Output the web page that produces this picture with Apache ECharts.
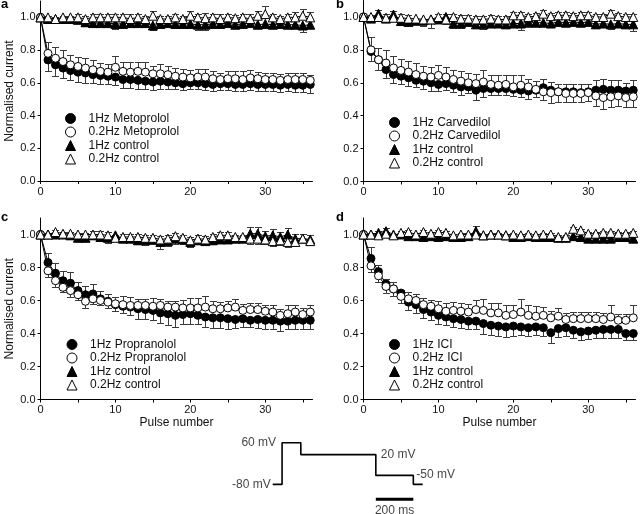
<!DOCTYPE html>
<html>
<head>
<meta charset="utf-8">
<script src="https://cdn.jsdelivr.net/npm/echarts@6/dist/echarts.min.js"></script>
<style>
html,body{margin:0;padding:0;background:#fff;}
#chart{width:640px;height:514px;}
</style>
</head>
<body>
<div id="chart"></div>
<script>
// ---------- DATA ----------
const pulses = [0,1,2,3,4,5,6,7,8,9,10,11,12,13,14,15,16,17,18,19,20,21,22,23,24,25,26,27,28,29,30,31,32,33,34,35,36];
const yTickValues = [0,0.2,0.4,0.6,0.8,1.0];
const xLabelValues = [0,10,20,30];
const xTickValues = [0,5,10,15,20,25,30,35];

const panelLetters = ['a','b','c','d'];
const drugNames = ['Metoprolol','Carvedilol','Propranolol','ICI'];
const yAxisTitle = 'Normalised current';
const xAxisTitle = 'Pulse number';

// Panel a
const a1 = [1.00,0.74,0.71,0.69,0.675,0.665,0.66,0.65,0.645,0.64,0.635,0.62,0.62,0.615,0.61,0.605,0.61,0.605,0.60,0.595,0.60,0.60,0.595,0.59,0.595,0.595,0.59,0.59,0.595,0.59,0.59,0.59,0.585,0.59,0.585,0.585,0.59];
const a1e = [0,-.07,-.07,-.06,-.06,-.06,-.06,-.05,-.05,-.05,-.05,-.05,-.05,-.05,-.05,-.05,-.05,-.04,-.04,-.04,-.04,-.04,-.04,-.04,-.04,-.04,-.04,-.04,-.04,-.04,-.04,-.04,-.04,-.04,-.04,-.04,-.05];
const a2 = [1.00,0.78,0.75,0.73,0.71,0.70,0.69,0.68,0.67,0.665,0.695,0.67,0.665,0.67,0.665,0.655,0.655,0.65,0.64,0.635,0.63,0.635,0.635,0.625,0.62,0.625,0.625,0.62,0.63,0.625,0.62,0.62,0.615,0.62,0.62,0.62,0.615];
const a2e = [0,.07,.07,.07,.06,.06,.06,.06,.05,.05,.07,.06,.06,.06,.06,.05,.06,.05,.05,.05,.05,.05,.05,.05,.04,.05,.05,.05,.05,.04,.04,.04,.04,.04,.04,.04,.03];
const a3 = [1.00,0.99,0.99,0.99,0.99,0.985,0.97,0.965,0.965,0.965,0.96,0.96,0.965,0.965,0.965,0.95,0.96,0.965,0.96,0.96,0.96,0.955,0.955,0.96,0.96,0.965,0.955,0.96,0.965,0.955,0.96,0.955,0.96,0.955,0.955,0.95,0.955];
const a3e = [0,-.01,-.01,-.01,-.01,-.01,-.02,-.02,-.02,-.02,-.03,-.02,-.02,-.02,-.02,-.03,-.02,-.02,-.02,-.02,-.02,-.03,-.03,-.02,-.02,-.02,-.02,-.02,-.02,-.02,-.02,-.02,-.02,-.02,-.02,-.04,-.02];
const a4 = [1.00,1.00,0.99,1.00,1.00,1.00,0.99,1.00,1.00,1.00,1.00,1.00,0.99,1.00,0.99,1.01,0.99,0.99,1.00,0.99,1.01,1.00,0.995,1.00,0.99,1.00,0.995,1.00,0.99,1.01,1.02,1.00,0.99,1.00,1.00,1.01,1.00];
const a4e = [0,.01,.01,.01,.01,.02,.02,.02,.02,.02,.02,.02,.03,.02,.02,.03,.02,.02,.02,.02,.03,.02,.03,.02,.03,.02,.02,.02,.03,.03,.05,.02,.02,.02,.03,.04,.03];

// Panel b
const b1 = [1.00,0.79,0.74,0.68,0.65,0.64,0.63,0.615,0.61,0.60,0.59,0.595,0.585,0.575,0.575,0.555,0.565,0.565,0.565,0.565,0.56,0.555,0.55,0.555,0.57,0.555,0.545,0.545,0.545,0.54,0.545,0.555,0.56,0.555,0.555,0.55,0.555];
const b1e = [0,-.06,-.06,-.05,-.05,-.05,-.05,-.04,-.05,-.05,-.04,-.04,-.04,-.05,-.04,-.06,-.05,-.04,-.04,-.04,-.04,-.04,-.05,-.04,.05,.05,.05,.05,.05,.05,.05,.06,.06,.06,.06,.05,.06];
const b2 = [1.00,0.80,0.74,0.72,0.69,0.675,0.665,0.65,0.64,0.635,0.645,0.635,0.62,0.61,0.60,0.595,0.605,0.59,0.585,0.59,0.575,0.585,0.575,0.56,0.545,0.54,0.545,0.535,0.535,0.535,0.54,0.52,0.51,0.515,0.52,0.51,0.515];
const b2e = [0,.08,.07,.08,.07,.07,.07,.07,.06,.06,.06,.06,.06,.06,.06,.06,.07,.06,.06,.06,.07,.06,.05,.05,-.05,-.06,-.06,-.05,-.05,-.05,-.05,-.06,-.07,-.06,-.06,-.06,-.06];
const b3 = [1.00,0.99,1.02,0.99,1.015,0.975,0.97,0.98,0.98,0.985,0.985,1.00,0.96,0.96,0.97,0.955,0.955,0.96,0.96,0.955,0.96,0.96,0.97,0.965,0.965,0.96,0.97,0.965,0.97,0.965,0.97,0.955,0.96,0.955,0.96,0.955,0.955];
const b3e = [0,-.01,.02,-.02,.02,-.02,-.02,-.02,-.03,-.02,-.02,.02,-.03,-.03,-.02,-.02,-.03,-.02,-.02,-.02,-.02,-.04,-.03,-.02,-.02,-.02,-.02,-.02,-.02,-.02,-.02,-.02,-.02,-.03,-.02,-.02,-.04];
const b4 = [1.00,1.00,1.00,0.995,0.995,0.995,0.99,0.99,0.985,0.985,1.00,0.985,1.00,0.99,0.99,0.985,0.985,0.99,0.985,0.985,1.01,1.01,1.00,1.005,1.02,1.005,1.01,1.01,1.005,1.01,1.01,1.00,1.00,1.02,1.005,1.00,1.00];
const b4e = [0,.01,-.02,.02,-.02,.02,.02,-.04,-.04,-.05,.02,-.03,.02,.02,.02,.02,.02,.02,.02,.02,.02,.02,.02,.02,.02,.02,.02,.02,.02,.02,.02,.02,.02,.02,.02,.02,.02];

// Panel c
const c1 = [1.00,0.83,0.765,0.72,0.705,0.66,0.635,0.64,0.61,0.595,0.575,0.565,0.56,0.55,0.545,0.54,0.525,0.52,0.51,0.515,0.52,0.51,0.50,0.495,0.495,0.49,0.485,0.49,0.48,0.485,0.48,0.48,0.475,0.475,0.48,0.48,0.48];
const c1e = [0,.06,.06,.06,.07,.05,.05,.06,.05,-.04,-.04,-.04,-.05,-.06,-.06,-.06,-.06,-.07,-.07,-.06,-.06,-.05,-.06,-.06,-.06,-.06,-.05,-.05,-.04,-.05,-.05,-.05,-.06,-.05,-.05,-.05,-.05];
const c2 = [1.00,0.78,0.72,0.68,0.66,0.635,0.595,0.61,0.60,0.59,0.58,0.575,0.57,0.57,0.57,0.565,0.57,0.56,0.56,0.555,0.555,0.555,0.56,0.55,0.55,0.555,0.56,0.54,0.545,0.545,0.535,0.53,0.51,0.52,0.53,0.515,0.53];
const c2e = [0,-.04,-.04,-.03,-.04,-.03,-.04,-.03,-.03,.05,.04,.05,.05,.04,.04,.05,.04,.04,.04,.05,.06,.06,.07,.05,.04,.04,.05,.04,.04,.04,.04,.04,.04,.05,.04,.04,.04];
const c3 = [1.00,1.00,1.00,1.00,0.995,0.98,0.98,0.995,0.985,0.98,0.995,0.975,0.975,0.965,0.965,0.97,0.955,0.96,0.975,0.97,0.955,0.965,0.96,0.965,0.97,0.97,0.975,0.975,1.005,1.005,0.99,0.995,0.985,1.00,0.975,0.975,0.97];
const c3e = [0,-.01,-.01,-.01,-.02,-.02,-.02,-.02,-.02,-.03,-.02,-.02,-.02,-.02,-.03,-.03,-.04,-.03,-.03,-.03,-.03,-.02,-.02,-.02,-.02,-.02,.02,.02,.04,.04,.03,.04,.03,.04,.03,.03,.03];
const c4 = [1.00,1.00,1.015,1.005,1.005,1.00,1.00,1.00,1.00,0.995,0.98,0.985,0.985,0.985,0.98,0.98,0.97,0.975,0.99,0.98,0.965,0.975,0.97,0.985,0.995,0.995,0.985,0.985,0.975,0.975,0.97,0.96,0.965,0.955,0.955,0.975,0.96];
const c4e = [0,.01,.01,.01,.01,.01,.01,.02,.02,.02,.02,.02,.02,.02,.02,.02,.02,.02,.02,.02,.02,.02,.02,.02,.02,.02,-.02,-.02,-.03,-.03,-.03,-.03,-.03,-.03,-.02,-.02,-.02];

// Panel d
const d1 = [1.00,0.855,0.775,0.70,0.67,0.645,0.59,0.575,0.545,0.53,0.51,0.50,0.49,0.485,0.475,0.475,0.46,0.45,0.445,0.44,0.445,0.44,0.435,0.44,0.435,0.405,0.43,0.435,0.42,0.41,0.415,0.42,0.425,0.425,0.425,0.40,0.40];
const d1e = [0,.07,.04,.03,.04,-.06,-.05,-.05,-.05,-.05,-.05,-.05,-.05,-.05,-.05,-.05,-.06,-.06,-.06,-.06,-.06,-.05,-.05,-.05,-.05,-.06,-.05,-.05,-.05,-.05,-.05,-.05,-.05,-.05,-.05,-.04,-.04];
const d2 = [1.00,0.81,0.75,0.685,0.67,0.625,0.61,0.60,0.575,0.565,0.55,0.535,0.54,0.535,0.53,0.545,0.54,0.525,0.525,0.51,0.515,0.53,0.51,0.505,0.51,0.495,0.505,0.485,0.49,0.49,0.49,0.49,0.485,0.50,0.48,0.48,0.495];
const d2e = [0,-.04,-.04,-.04,-.04,.04,.04,.04,.04,.04,.05,.05,.05,.05,.05,.06,.07,.06,.06,.06,.06,.08,.06,.06,.05,.04,.05,.04,.04,.04,.04,.04,.04,.07,.04,.04,.08];
const d3 = [1.00,1.00,1.01,1.02,1.00,1.00,0.99,0.99,0.985,0.99,0.985,0.99,0.985,0.985,0.99,1.02,0.995,1.00,1.00,0.995,0.985,0.985,0.99,0.985,0.985,0.985,0.98,0.98,0.99,0.985,0.975,0.975,0.975,0.975,0.985,0.985,0.975];
const d3e = [0,-.01,.01,.02,-.01,-.01,-.01,-.01,-.01,-.01,-.01,-.01,-.01,-.01,-.01,.03,-.01,.01,.01,-.01,-.01,-.01,-.01,-.01,-.01,-.01,-.01,-.01,-.02,-.02,-.02,-.02,-.02,-.02,-.02,-.02,-.02];
const d4 = [1.00,1.00,0.995,1.005,0.995,1.01,1.015,1.00,1.015,1.005,1.015,1.01,0.995,1.00,1.00,1.00,0.995,1.00,1.00,0.995,1.00,0.995,1.00,0.995,1.00,1.00,0.985,0.985,1.035,1.025,1.005,1.005,1.01,1.01,1.005,1.005,1.01];
const d4e = [0,.01,.01,.01,.01,.01,.01,.01,.01,.01,.01,.01,.01,.01,.01,.01,.01,.01,.01,.01,.01,.01,.01,.01,.01,.01,.01,.01,.01,.01,.01,.01,.01,.01,.01,.01,.01];

// Voltage protocol (time in ms, level in mV)
const protoTime = [0,50,50,150,150,550,550,750,750,800];
const protoLevel = [-80,-80,60,60,20,20,-50,-50,-80,-80];
const scaleBarTime = [550,750];
const scaleBarLevel = [-130,-130];
const protoLabels = ['-80 mV','60 mV','20 mV','-50 mV','200 ms'];
const protoLabelTime = [0,50,550,750,650];
const protoLabelLevel = [-80,60,20,-50,-130];

// ---------- BUILD ----------
const FONT = '"Liberation Sans", Arial, Helvetica, sans-serif';
const panelValues = [[a1,a2,a3,a4],[b1,b2,b3,b4],[c1,c2,c3,c4],[d1,d2,d3,d4]];
const panelErrors = [[a1e,a2e,a3e,a4e],[b1e,b2e,b3e,b4e],[c1e,c2e,c3e,c4e],[d1e,d2e,d3e,d4e]];

const grids = [
  {left:40.5, top:1, width:272, height:180},
  {left:363.5, top:0.5, width:272, height:181},
  {left:40.5, top:218, width:272, height:181.5},
  {left:363.5, top:218, width:272, height:181.5},
  {left:272.7, top:442.7, width:150, height:56.5}
];
const legendPos = [
  {left:65, top:112.5},
  {left:389, top:116.5},
  {left:66.5, top:338.5},
  {left:389, top:338.5}
];

const styles = [
  {symbol:'circle', size:8, fill:'#000'},
  {symbol:'circle', size:8, fill:'#fff'},
  {symbol:'triangle', size:9, fill:'#000'},
  {symbol:'triangle', size:9, fill:'#fff'}
];

function seriesNames(p){
  return ['1Hz ' + drugNames[p], '0.2Hz ' + drugNames[p], '1Hz control', '0.2Hz control'];
}

function errRender(params, api){
  const x = api.value(0), y = api.value(1), e = api.value(2);
  if (!e) return null;
  const p0 = api.coord([x, y]);
  const p1 = api.coord([x, y + e]);
  const px = Math.round(p0[0]) + 0.5;
  const py = Math.round(p1[1]) + 0.5;
  const hw = 3.5;
  const st = {stroke:'#3a3a3a', lineWidth:1};
  return {type:'group', children:[
    {type:'line', shape:{x1:px, y1:p0[1], x2:px, y2:py}, style:st},
    {type:'line', shape:{x1:px-hw, y1:py, x2:px+hw, y2:py}, style:st}
  ]};
}

const xAxes = [], yAxes = [], series = [], legends = [], graphics = [];
for (let p = 0; p < 4; p++){
  xAxes.push({
    type:'value', gridIndex:p, min:0, max:36.3,
    name: p >= 2 ? xAxisTitle : '', nameLocation:'middle', nameGap:15,
    nameTextStyle:{fontSize:12, color:'#111', fontFamily:FONT},
    axisLine:{show:true, onZero:false, lineStyle:{color:'#000', width:1}},
    axisTick:{show:true, length:3, customValues:xTickValues, lineStyle:{color:'#000'}},
    axisLabel:{show:true, customValues:xLabelValues, fontSize:11, color:'#111', fontFamily:FONT, margin:5},
    splitLine:{show:false}
  });
  yAxes.push({
    type:'value', gridIndex:p, min:0, max:1.1,
    name: (p === 0 || p === 2) ? yAxisTitle : '', nameLocation:'middle', nameGap:25,
    nameTextStyle:{fontSize:12, color:'#111', fontFamily:FONT},
    axisLine:{show:true, onZero:false, lineStyle:{color:'#000', width:1}},
    axisTick:{show:true, length:3, customValues:yTickValues, lineStyle:{color:'#000'}},
    axisLabel:{show:true, customValues:yTickValues, fontSize:11, color:'#111', fontFamily:FONT, margin:5,
      formatter:v => v.toFixed(1)},
    splitLine:{show:false}
  });
  const names = seriesNames(p);
  for (let s = 0; s < 4; s++){
    const vals = panelValues[p][s];
    const errs = panelErrors[p][s];
    series.push({
      type:'custom', xAxisIndex:p, yAxisIndex:p, z:1, silent:true,
      renderItem: errRender, encode:{x:0, y:1},
      data: pulses.map((x,i) => [x, vals[i], errs[i]])
    });
  }
  for (let s = 0; s < 4; s++){
    const vals = panelValues[p][s];
    const st = styles[s];
    series.push({
      type:'line', name:names[s], xAxisIndex:p, yAxisIndex:p, z:2 + s,
      symbol:st.symbol, symbolSize:st.size, showAllSymbol:true,
      itemStyle:{color:st.fill, borderColor:'#000', borderWidth:1},
      lineStyle:{color:'#000', width:1},
      emphasis:{disabled:true}, animation:false,
      data: pulses.map((x,i) => [x, vals[i]])
    });
  }
  legends.push({
    orient:'vertical', left:legendPos[p].left, top:legendPos[p].top, padding:0,
    itemWidth:10, itemHeight:10, itemGap:1.5, selectedMode:false,
    textStyle:{fontSize:12, color:'#111', fontFamily:FONT, lineHeight:11, padding:[0,0,0,8]},
    data: names.map((n,s) => ({
      name:n, icon:styles[s].symbol,
      itemStyle:{color:styles[s].fill, borderColor:'#000', borderWidth:1}
    }))
  });
  graphics.push({
    type:'text', left: p % 2 === 0 ? 1 : 336, top: p < 2 ? -2 : 211,
    style:{text:panelLetters[p], font:'bold 13px ' + FONT, fill:'#000'}
  });
}

// protocol axes
xAxes.push({type:'value', gridIndex:4, min:0, max:800, show:false});
yAxes.push({type:'value', gridIndex:4, min:-130, max:60, show:false});
series.push({
  type:'line', xAxisIndex:4, yAxisIndex:4, symbol:'none', silent:true,
  lineStyle:{color:'#000', width:1.6}, clip:false,
  data: protoTime.map((t,i) => [t, protoLevel[i]])
});
series.push({
  type:'line', xAxisIndex:4, yAxisIndex:4, symbol:'none', silent:true,
  lineStyle:{color:'#000', width:3, cap:'butt'}, clip:false,
  data: scaleBarTime.map((t,i) => [t, scaleBarLevel[i]])
});
const labelPositions = ['left','left','right','right','bottom'];
const labelOffsets = [[1,0],[-3,0],[2,0],[0,-1],[0,2]];
series.push({
  type:'scatter', xAxisIndex:4, yAxisIndex:4, symbolSize:0, silent:true, clip:false,
  data: protoLabels.map((txt,i) => ({
    value:[protoLabelTime[i], protoLabelLevel[i]],
    label:{show:true, formatter:txt, position:labelPositions[i], offset:labelOffsets[i],
      distance:3, fontSize:12, color:'#111', fontFamily:FONT}
  }))
});

const option = {
  backgroundColor:'#fff',
  animation:false,
  textStyle:{fontFamily:FONT},
  grid: grids,
  xAxis: xAxes,
  yAxis: yAxes,
  legend: legends,
  series: series,
  graphic: graphics
};

const chart = echarts.init(document.getElementById('chart'), null, {renderer:'canvas'});
chart.setOption(option);
</script>
</body>
</html>
